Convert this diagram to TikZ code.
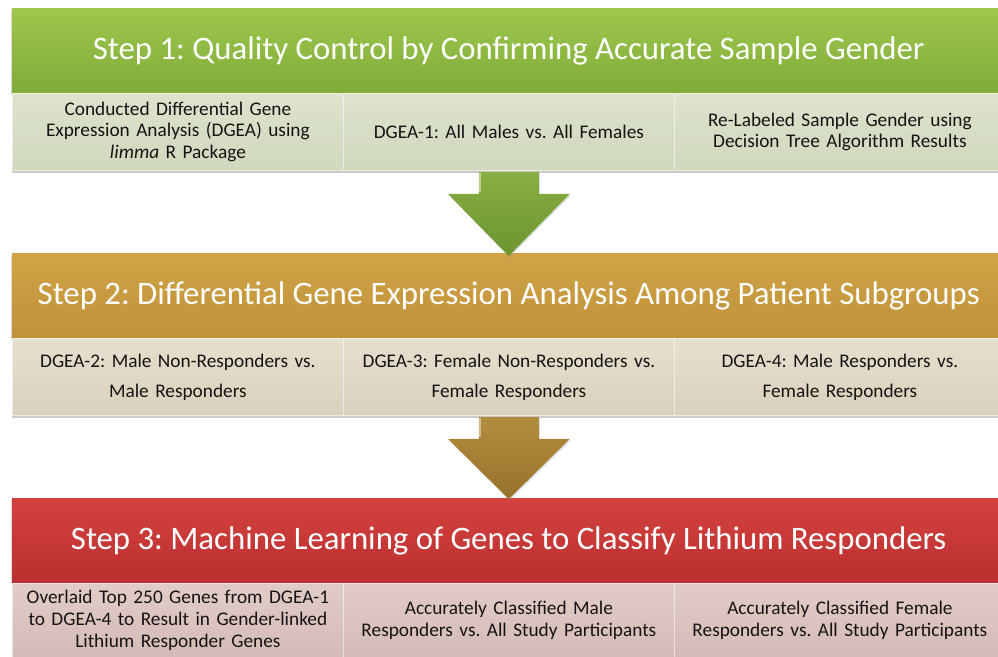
\documentclass[tikz,border=0pt]{standalone}
\usepackage{fontspec}
\setmainfont{Carlito}
\usetikzlibrary{shadows,calc}
\definecolor{gHt}{RGB}{158,199,76}
\definecolor{gHb}{RGB}{127,171,57}
\definecolor{gSt}{RGB}{221,227,205}
\definecolor{gSb}{RGB}{208,216,189}
\definecolor{oHt}{RGB}{209,163,70}
\definecolor{oHb}{RGB}{192,146,58}
\definecolor{oSt}{RGB}{230,223,205}
\definecolor{oSb}{RGB}{217,209,189}
\definecolor{rHt}{RGB}{212,66,64}
\definecolor{rHb}{RGB}{186,47,47}
\definecolor{rSt}{RGB}{226,203,200}
\definecolor{rSb}{RGB}{213,187,184}
\definecolor{gAt}{RGB}{136,175,66}
\definecolor{gAb}{RGB}{108,148,48}
\definecolor{oAt}{RGB}{178,140,62}
\definecolor{oAb}{RGB}{150,115,43}
\definecolor{txt}{RGB}{20,20,20}
\frenchspacing
\begin{document}
\begin{tikzpicture}[x=1pt,y=-1pt,
  header/.style={anchor=north west, inner sep=0pt, minimum width=993pt, minimum height=85pt,
    text=white, font=\fontsize{32.8}{36}\selectfont,
    drop shadow={opacity=0.3, shadow xshift=-1.5pt, shadow yshift=-1.5pt}},
  subbox/.style={anchor=north west, inner sep=0pt, minimum width=331pt, minimum height=77pt,
    text width=324pt, align=center, text=txt, font=\fontsize{19.3}{21.7}\selectfont,
    draw=white, draw opacity=0.55, line width=0.8pt,
    drop shadow={opacity=0.4, shadow xshift=0pt, shadow yshift=-2.5pt}},
  wide/.style={font=\fontsize{19.3}{30}\selectfont},
  grn/.style={top color=gSt, bottom color=gSb},
  gld/.style={top color=oSt, bottom color=oSb},
  red/.style={top color=rSt, bottom color=rSb},
  blockarrow/.style={draw=none, drop shadow={opacity=0.25, shadow xshift=1pt, shadow yshift=-1.5pt}},
  shine/.style={draw=white, draw opacity=0.45, line width=1.2pt}
]
\useasboundingbox (0,0) rectangle (998,656);
\clip (0,0) rectangle (998,656);

% nodes
\node[header, top color=gHt, bottom color=gHb] (h1) at (12,8)
  {Step 1: Quality Control by Confirming Accurate Sample Gender};
\node[subbox, grn] (s1a) at (12,93)
  {Conducted Differential Gene\\ Expression Analysis (DGEA) using\\ \textit{limma} R Package};
\node[subbox, grn] (s1b) at (343,93) {DGEA-1: All Males vs. All Females};
\node[subbox, grn] (s1c) at (674,93)
  {Re-Labeled Sample Gender using\\ Decision Tree Algorithm Results};

\node[header, top color=oHt, bottom color=oHb] (h2) at (12,253)
  {Step 2: Differential Gene Expression Analysis Among Patient Subgroups};
\node[subbox, gld, wide] (s2a) at (12,338)
  {DGEA-2: Male Non-Responders vs.\\ Male Responders};
\node[subbox, gld, wide] (s2b) at (343,338)
  {DGEA-3: Female Non-Responders vs.\\ Female Responders};
\node[subbox, gld, wide] (s2c) at (674,338)
  {DGEA-4: Male Responders vs.\\ Female Responders};

\node[header, top color=rHt, bottom color=rHb] (h3) at (12,498)
  {Step 3: Machine Learning of Genes to Classify Lithium Responders};
\node[subbox, red, minimum height=74pt] (s3a) at (12,583)
  {Overlaid Top 250 Genes from DGEA-1\\ to DGEA-4 to Result in Gender-linked\\ Lithium Responder Genes};
\node[subbox, red, minimum height=74pt] (s3b) at (343,583)
  {Accurately Classified Male\\ Responders vs. All Study Participants};
\node[subbox, red, minimum height=74pt] (s3c) at (674,583)
  {Accurately Classified Female\\ Responders vs. All Study Participants};

% block arrows (connectors between steps)
\path[blockarrow, top color=gAt, bottom color=gAb]
  ($(s1b.south)+(-30,1)$) -- ++(0,22) -- ++(-31,0) -- ($(h2.north)+(0,3)$)
  -- ($(s1b.south)+(61,23)$) -- ++(-31,0) -- ++(0,-22) -- cycle;
\draw[shine] ($(s1b.south)+(-29,2)$) -- ($(s1b.south)+(-29,21)$);
\path[blockarrow, top color=oAt, bottom color=oAb]
  ($(s2b.south)+(-30,1)$) -- ++(0,22) -- ++(-31,0) -- ($(h3.north)+(0,1)$)
  -- ($(s2b.south)+(61,23)$) -- ++(-31,0) -- ++(0,-22) -- cycle;
\draw[shine] ($(s2b.south)+(-29,2)$) -- ($(s2b.south)+(-29,21)$);
\end{tikzpicture}
\end{document}
